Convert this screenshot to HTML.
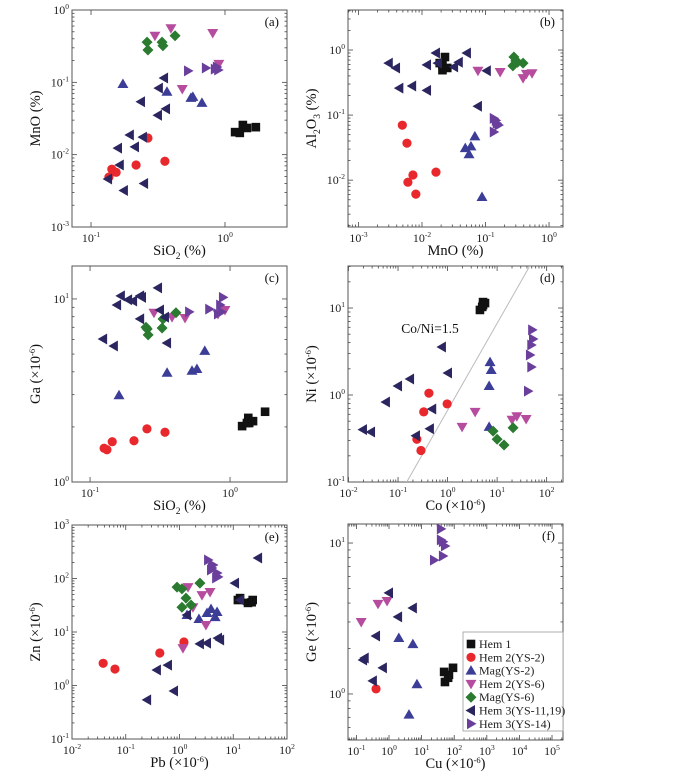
<!DOCTYPE html>
<html><head><meta charset="utf-8"><style>
html,body{margin:0;padding:0;background:#fff;}
svg{display:block;font-family:"Liberation Serif",serif;}
</style></head><body>
<svg id="fig" width="700" height="777" viewBox="0 0 700 777" xmlns="http://www.w3.org/2000/svg"></svg>
<script>
// ---------- Panel (a): SiO2 vs MnO ----------
const a_hem1=[[1.19,0.0205],[1.29,0.020],[1.36,0.0257],[1.46,0.0234],[1.70,0.024]];
const a_hem2ys2=[[0.136,0.0049],[0.143,0.0063],[0.154,0.0057],[0.217,0.0072],[0.266,0.017],[0.356,0.0081]];
const a_magys2=[[0.173,0.095],[0.369,0.074],[0.557,0.061],[0.576,0.063],[0.673,0.052]];
const a_hem2ys6=[[0.30,0.44],[0.395,0.56],[0.81,0.48],[0.48,0.081],[0.90,0.18]];
const a_magys6=[[0.262,0.36],[0.266,0.28],[0.339,0.36],[0.344,0.32],[0.424,0.44]];
const a_hem3ys11=[[0.351,0.115],[0.321,0.083],[0.236,0.054],[0.363,0.043],[0.316,0.035],[0.195,0.0187],[0.244,0.0175],[0.159,0.0123],[0.213,0.0128],[0.164,0.0072],[0.134,0.0046],[0.249,0.0040],[0.176,0.0032]];
const a_hem3ys14=[[0.53,0.144],[0.72,0.158],[0.84,0.152],[0.87,0.163],[0.89,0.148]];
// ---------- Panel (b): MnO vs Al2O3 ----------
const b_hem1=[[0.023,0.78],[0.019,0.63],[0.025,0.53],[0.021,0.49],[0.021,0.59]];
const b_hem2ys2=[[0.0049,0.070],[0.0058,0.037],[0.0072,0.012],[0.0060,0.0093],[0.0080,0.0061],[0.0166,0.0133]];
const b_magys2=[[0.068,0.047],[0.059,0.033],[0.048,0.031],[0.055,0.025],[0.088,0.0055]];
const b_hem2ys6=[[0.076,0.48],[0.17,0.46],[0.39,0.37],[0.44,0.43],[0.54,0.44]];
const b_magys6=[[0.28,0.78],[0.27,0.57],[0.32,0.65],[0.39,0.63],[0.30,0.68]];
const b_hem3ys11=[[0.0030,0.63],[0.0039,0.53],[0.012,0.59],[0.0166,0.90],[0.0178,0.63],[0.032,0.55],[0.038,0.65],[0.051,0.90],[0.105,0.48],[0.0044,0.26],[0.0070,0.28],[0.012,0.24],[0.076,0.137]];
const b_hem3ys14=[[0.135,0.089],[0.15,0.075],[0.16,0.070],[0.135,0.055],[0.145,0.083]];
// ---------- Panel (c): SiO2 vs Ga ----------
const c_hem1=[[1.22,2.02],[1.35,2.24],[1.37,2.10],[1.46,2.15],[1.78,2.42],[1.32,2.10]];
const c_hem2ys2=[[0.126,1.53],[0.132,1.50],[0.144,1.66],[0.206,1.68],[0.255,1.95],[0.343,1.87]];
const c_magys2=[[0.161,2.98],[0.355,3.95],[0.535,4.05],[0.58,4.14],[0.66,5.2]];
const c_hem2ys6=[[0.286,8.4],[0.385,7.95],[0.477,7.87],[0.82,8.28],[0.92,8.7]];
const c_magys6=[[0.251,7.0],[0.256,6.85],[0.26,6.36],[0.327,6.94],[0.332,7.77],[0.411,8.4]];
const c_hem3ys11=[[0.306,11.5],[0.166,10.4],[0.187,9.9],[0.203,9.75],[0.228,10.4],[0.235,10.2],[0.156,9.27],[0.228,7.78],[0.124,6.04],[0.148,5.53],[0.316,8.7],[0.343,7.95],[0.355,5.75]];
const c_hem3ys14=[[0.51,8.5],[0.71,8.8],[0.82,8.28],[0.85,9.27],[0.89,10.2],[0.87,8.5]];
// ---------- Panel (d): Co vs Ni ----------
const d_hem1=[[5.2,11.7],[5.0,10.3],[4.5,9.5],[5.7,11.4],[5.2,10.8]];
const d_hem2ys2=[[0.42,1.05],[0.98,0.79],[0.33,0.64],[0.24,0.31],[0.29,0.23]];
const d_magys2=[[7.2,2.39],[7.6,1.94],[6.9,1.27],[6.9,0.43]];
const d_hem2ys6=[[1.96,0.43],[3.6,0.64],[20,0.52],[25,0.57],[38.5,0.53]];
const d_magys6=[[8.3,0.385],[10,0.31],[13.8,0.266],[21,0.42]];
const d_hem3ys11=[[0.77,3.56],[1.02,1.79],[0.175,1.53],[0.1,1.27],[0.057,0.83],[0.49,0.69],[0.44,0.41],[0.23,0.34],[0.0196,0.40],[0.0285,0.376]];
const d_hem3ys14=[[51,5.6],[53,4.4],[49,3.76],[46,2.88],[49,2.1],[42,1.11]];
const d_ratio=[1.5];
// ---------- Panel (e): Pb vs Zn ----------
const e_hem1=[[12.2,39.6],[13.4,43],[18.8,35],[22,36],[23,39.6]];
const e_hem2ys2=[[0.038,2.6],[0.063,2.03],[0.43,4.05],[1.21,6.5]];
const e_magys2=[[1.38,20.8],[2.3,17.5],[3.25,22.6],[3.86,26.9],[4.6,19],[5.0,23.6]];
const e_hem2ys6=[[1.44,69],[1.78,29],[2.62,49],[3.1,13.5],[1.16,5.0],[3.7,56]];
const e_magys6=[[0.9,69],[1.11,64],[2.4,82],[1.32,43],[1.11,29],[1.64,32]];
const e_hem3ys11=[[29,242],[10.8,82],[13.4,39.6],[1.38,20.8],[2.4,6.0],[3.25,6.2],[5.2,7.7],[5.7,7.1],[0.61,2.4],[0.38,1.95],[0.79,0.79],[0.25,0.54]];
const e_hem3ys14=[[3.4,222],[4.2,179],[3.86,144],[5.0,127],[5.2,107],[4.8,102],[4.0,157]];
// ---------- Panel (f): Cu vs Ge ----------
const f_hem1=[[49,1.40],[92,1.49],[69,1.34],[52,1.20],[65,1.28]];
const f_hem2ys2=[[0.40,1.08]];
const f_magys2=[[2.0,2.35],[5.4,2.14],[7.2,1.16],[4.1,0.73]];
const f_hem2ys6=[[0.14,3.0],[0.46,3.95],[0.87,4.13]];
const f_magys6=[];
const f_hem3ys11=[[1.0,4.67],[5.4,3.71],[1.9,3.24],[0.40,2.42],[0.18,1.73],[0.16,1.68],[0.65,1.49],[0.32,1.22]];
const f_hem3ys14=[[39,12.4],[39,10.5],[45,10.2],[52,9.55],[45,8.2],[24,7.7]];

const legendLabels=["Hem 1","Hem 2(YS-2)","Mag(YS-2)","Hem 2(YS-6)","Mag(YS-6)","Hem 3(YS-11,19)","Hem 3(YS-14)"];
const seriesKeys=["hem1","hem2ys2","magys2","hem2ys6","magys6","hem3ys11","hem3ys14"];
const seriesShapes=["square","circle","up","down","diamond","left","right"];
const seriesColors=["#111111","#e8282c","#3c3d96","#b64c9e","#2a7a30","#2b2660","#6a3f9c"];

const NS="http://www.w3.org/2000/svg";
const svg=document.getElementById('fig');
function mk(tag,attrs,parent){const e=document.createElementNS(NS,tag);for(const k in attrs)e.setAttribute(k,attrs[k]);(parent||svg).appendChild(e);return e;}

function marker(g,shape,x,y,color){
  let e;const r=4.6;
  if(shape==="square")e=mk('rect',{x:x-4.3,y:y-4.3,width:8.6,height:8.6,fill:color},g);
  else if(shape==="circle")e=mk('circle',{cx:x,cy:y,r:r,fill:color},g);
  else{
    let p;
    if(shape==="up")p=[[x,y-5.5],[x+5.5,y+4],[x-5.5,y+4]];
    else if(shape==="down")p=[[x,y+5.5],[x+5.5,y-4],[x-5.5,y-4]];
    else if(shape==="left")p=[[x-5.5,y],[x+4,y-5.5],[x+4,y+5.5]];
    else if(shape==="right")p=[[x+5.5,y],[x-4,y-5.5],[x-4,y+5.5]];
    else p=[[x,y-5.5],[x+5.5,y],[x,y+5.5],[x-5.5,y]];
    e=mk('polygon',{points:p.map(q=>q.join(',')).join(' '),fill:color},g);
  }
  return e;
}

function powLabel(g,x,y,exp,anchor,name){
  const t=mk('text',{x:x,y:y,'font-size':12,'text-anchor':anchor,fill:'#222'},g);
  
  
  t.appendChild(document.createTextNode('10'));
  const s=mk('tspan',{dy:-5,'font-size':7.5},t);s.textContent=String(exp);
  return t;
}

function panel(cfg){
  const g=mk('g',{});
  
  
  const {x0,x1,y0,y1,xd,yd}=cfg;
  const sx=v=>x0+(Math.log10(v)-xd[0])/(xd[1]-xd[0])*(x1-x0);
  const sy=v=>y1-(Math.log10(v)-yd[0])/(yd[1]-yd[0])*(y1-y0);
  const tg=mk('g',{stroke:'#444','stroke-width':0.8},g);
  
  
  for(let d=Math.floor(xd[0]);d<=Math.ceil(xd[1]);d++){
    for(let m=1;m<10;m++){
      const v=m*Math.pow(10,d);const lv=Math.log10(v);
      if(lv<xd[0]-1e-9||lv>xd[1]+1e-9)continue;
      const X=sx(v);const L=m===1?5:2.5;
      if(cfg.denseX||m===1){mk('line',{x1:X,y1:y1,x2:X,y2:y1-L},tg);mk('line',{x1:X,y1:y0,x2:X,y2:y0+L},tg);}
    }
  }
  for(let d=Math.floor(yd[0]);d<=Math.ceil(yd[1]);d++){
    for(let m=1;m<10;m++){
      const v=m*Math.pow(10,d);const lv=Math.log10(v);
      if(lv<yd[0]-1e-9||lv>yd[1]+1e-9)continue;
      const Y=sy(v);const L=m===1?5:2.5;
      mk('line',{x1:x0,y1:Y,x2:x0+L,y2:Y},tg);mk('line',{x1:x1,y1:Y,x2:x1-L,y2:Y},tg);
    }
  }
  cfg.xt.forEach(e=>powLabel(g,sx(Math.pow(10,e)),y1+15,e,'middle','x-tick-label'));
  cfg.yt.forEach(e=>powLabel(g,x0-3,sy(Math.pow(10,e))+4,e,'end','y-tick-label'));
  const fr=mk('rect',{x:x0,y:y0,width:x1-x0,height:y1-y0,fill:'none',stroke:'#555','stroke-width':1},g);
  
  
  const cp=mk('clipPath',{id:'clip'+cfg.id},g);mk('rect',{x:x0,y:y0,width:x1-x0,height:y1-y0},cp);
  const dg=mk('g',{'clip-path':'url(#clip'+cfg.id+')'},g);
  if(cfg.extra)cfg.extra(dg,sx,sy);
  seriesKeys.forEach((k,i)=>{
    const arr=cfg.data[i];
    const sg=mk('g',{},dg);
    
    
    arr.forEach(p=>{
      const e=marker(sg,seriesShapes[i],sx(p[0]),sy(p[1]),seriesColors[i]);
      
      
    });
  });
  const lt=mk('text',{x:x1-8,y:y0+16,'font-size':13,'text-anchor':'end',fill:'#111'},g);
  lt.textContent='('+cfg.id+')';
  
  
  const xt=mk('text',{x:(x0+x1)/2,y:y1+28,'font-size':14.5,'text-anchor':'middle',fill:'#111'},g);
  xt.innerHTML=cfg.xl;
  
  
  const yx=x0-32,yy=(y0+y1)/2;
  const yt=mk('text',{x:yx,y:yy,'font-size':14.5,'text-anchor':'middle',fill:'#111',transform:'rotate(-90 '+yx+' '+yy+')'},g);
  yt.innerHTML=cfg.yl;
  
  
  return g;
}
const e6='(×10<tspan dy="-5" font-size="8.5">-6</tspan><tspan dy="5">)</tspan>';
panel({id:'a',x0:72,x1:287,y0:10,y1:227,xd:[-1.142,0.463],yd:[-3,0],xt:[-1,0],yt:[-3,-2,-1,0],
  xl:'SiO<tspan dy="4" font-size="9.5">2</tspan><tspan dy="-4"> (%)</tspan>',yl:'MnO (%)',
  data:[a_hem1,a_hem2ys2,a_magys2,a_hem2ys6,a_magys6,a_hem3ys11,a_hem3ys14]});
panel({id:'b',x0:348,x1:563,y0:10,y1:227,xd:[-3.165,0.22],yd:[-2.72,0.615],xt:[-3,-2,-1,0],yt:[-2,-1,0],denseX:true,
  xl:'MnO (%)',yl:'Al<tspan dy="4" font-size="9.5">2</tspan><tspan dy="-4">O</tspan><tspan dy="4" font-size="9.5">3</tspan><tspan dy="-4"> (%)</tspan>',
  data:[b_hem1,b_hem2ys2,b_magys2,b_hem2ys6,b_magys6,b_hem3ys11,b_hem3ys14]});
panel({id:'c',x0:72,x1:287,y0:266,y1:482,xd:[-1.129,0.407],yd:[0,1.18],xt:[-1,0],yt:[0,1],
  xl:'SiO<tspan dy="4" font-size="9.5">2</tspan><tspan dy="-4"> (%)</tspan>',yl:'Ga '+e6,
  data:[c_hem1,c_hem2ys2,c_magys2,c_hem2ys6,c_magys6,c_hem3ys11,c_hem3ys14]});
panel({id:'d',x0:348,x1:563,y0:266,y1:482,xd:[-2.01,2.33],yd:[-1,1.483],xt:[-2,-1,0,1,2],yt:[-1,0,1],denseX:true,
  xl:'Co '+e6,yl:'Ni '+e6,
  data:[d_hem1,d_hem2ys2,d_magys2,d_hem2ys6,d_magys6,d_hem3ys11,d_hem3ys14],
  extra:(g,sx,sy)=>{
    const r=d_ratio[0];
    const l=mk('line',{x1:sx(0.01*r),y1:sy(0.01),x2:sx(1000*r),y2:sy(1000),stroke:'#bbb','stroke-width':1},g);
    
    
    const t=mk('text',{x:430,y:333,'font-size':13.5,'text-anchor':'middle',fill:'#111'},g);
    t.textContent='Co/Ni=1.5';
    
    
  }});
panel({id:'e',x0:72,x1:287,y0:525,y1:739,xd:[-2,2],yd:[-1,3],xt:[-2,-1,0,1,2],yt:[-1,0,1,2,3],denseX:true,
  xl:'Pb '+e6,yl:'Zn '+e6,
  data:[e_hem1,e_hem2ys2,e_magys2,e_hem2ys6,e_magys6,e_hem3ys11,e_hem3ys14]});
panel({id:'f',x0:348,x1:563,y0:524,y1:740,xd:[-1.258,5.337],yd:[-0.305,1.126],xt:[-1,0,1,2,3,4,5],yt:[0,1],denseX:true,
  xl:'Cu '+e6,yl:'Ge '+e6,
  data:[f_hem1,f_hem2ys2,f_magys2,f_hem2ys6,f_magys6,f_hem3ys11,f_hem3ys14]});

const lg=mk('g',{});


mk('rect',{x:463,y:632,width:100,height:99,fill:'#fff',stroke:'#999','stroke-width':0.8},lg);
legendLabels.forEach((lab,i)=>{
  const y=644+i*13.3;
  const eg=mk('g',{},lg);
  
  
  marker(eg,seriesShapes[i],471,y,seriesColors[i]);
  const t=mk('text',{x:479,y:y+4,'font-size':12,fill:'#222'},eg);
  t.textContent=lab;
});
</script>
</body></html>
